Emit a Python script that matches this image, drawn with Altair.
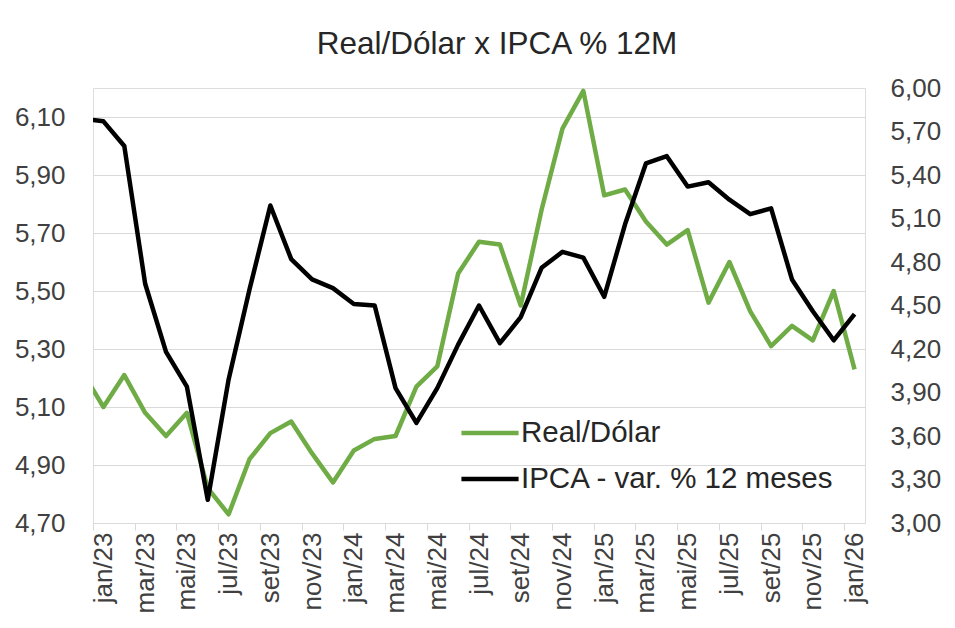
import altair as alt
import pandas as pd

FONT = "Liberation Sans"

meses = ["dez/22", "jan/23", "fev/23", "mar/23", "abr/23", "mai/23", "jun/23", "jul/23",
         "ago/23", "set/23", "out/23", "nov/23", "dez/23", "jan/24", "fev/24", "mar/24",
         "abr/24", "mai/24", "jun/24", "jul/24", "ago/24", "set/24", "out/24", "nov/24",
         "dez/24", "jan/25", "fev/25", "mar/25", "abr/25", "mai/25", "jun/25", "jul/25",
         "ago/25", "set/25", "out/25", "nov/25", "dez/25", "jan/26"]

real_dolar = [5.22, 5.10, 5.21, 5.08, 5.00, 5.08, 4.82, 4.73, 4.92, 5.01, 5.05, 4.94,
              4.84, 4.95, 4.99, 5.00, 5.17, 5.24, 5.56, 5.67, 5.66, 5.45, 5.78, 6.06,
              6.19, 5.83, 5.85, 5.74, 5.66, 5.71, 5.46, 5.60, 5.43, 5.31, 5.38, 5.33,
              5.50, 5.23]

ipca_12m = [5.79, 5.77, 5.60, 4.65, 4.18, 3.94, 3.16, 3.99, 4.61, 5.19, 4.82, 4.68,
            4.62, 4.51, 4.50, 3.93, 3.69, 3.93, 4.23, 4.50, 4.24, 4.42, 4.76, 4.87,
            4.83, 4.56, 5.06, 5.48, 5.53, 5.32, 5.35, 5.23, 5.13, 5.17, 4.68, 4.46,
            4.26, 4.44]

series = ["Real/Dólar", "IPCA - var. % 12 meses"]
cores = ["#6fac46", "#000000"]

ticks_esq = [4.70, 4.90, 5.10, 5.30, 5.50, 5.70, 5.90, 6.10]
ticks_dir = [3.00, 3.30, 3.60, 3.90, 4.20, 4.50, 4.80, 5.10, 5.40, 5.70, 6.00]
dominio_esq = [4.70, 6.20]
dominio_dir = [3.00, 6.00]

idx = list(range(-1, len(meses) - 1))
df_real = pd.DataFrame({"i": idx, "mes": meses, "valor": real_dolar, "serie": series[0]})
df_ipca = pd.DataFrame({"i": idx, "mes": meses, "valor": ipca_12m, "serie": series[1]})

W, H = 772, 435
n_cat = len(meses) - 1
step = W / n_cat

rotulos_x = meses[1:]
label_expr = "[" + ",".join("'" + m + "'" for m in rotulos_x) + "][datum.value]"
num_expr = "replace(format(datum.value, '.2f'), '.', ',')"

x_enc = alt.X(
    "i:Q",
    scale=alt.Scale(domain=[-0.5, n_cat - 0.5], nice=False, zero=False),
    axis=alt.Axis(
        values=list(range(0, n_cat, 2)),
        labelExpr=label_expr,
        labelAngle=-90,
        tickOffset=-step / 2,
        labelOffset=step / 2,
        title=None,
        grid=False,
        domainColor="#d9d9d9",
        tickColor="#d9d9d9",
        tickSize=7,
        labelPadding=2,
        labelFontSize=26,
        labelFont=FONT,
        labelColor="#404040",
        labelOverlap=False,
        labelFlush=False,
    ),
)

color_enc = alt.Color(
    "serie:N",
    scale=alt.Scale(domain=series, range=cores),
    legend=alt.Legend(
        orient="none",
        legendX=372,
        legendY=320,
        title=None,
        symbolType="M-1.27,0H1.27",
        symbolSize=2025,
        symbolStrokeWidth=4.5,
        labelFontSize=29.5,
        labelFont=FONT,
        labelColor="#262626",
        labelOffset=6,
        labelLimit=500,
        rowPadding=6,
        padding=0,
    ),
)

verde = alt.Chart(df_real).mark_line(strokeWidth=4.5, clip=True, strokeJoin="round").encode(
    x=x_enc,
    y=alt.Y(
        "valor:Q",
        scale=alt.Scale(domain=dominio_esq, nice=False, zero=False),
        axis=alt.Axis(
            orient="left",
            values=ticks_esq,
            labelExpr=num_expr,
            grid=True,
            gridColor="#d9d9d9",
            domain=False,
            ticks=False,
            labelPadding=28,
            title=None,
            labelFontSize=26,
            labelFont=FONT,
            labelColor="#404040",
        ),
    ),
    color=color_enc,
)

preta = alt.Chart(df_ipca).mark_line(strokeWidth=4.5, clip=True, strokeJoin="round").encode(
    x=x_enc,
    y=alt.Y(
        "valor:Q",
        scale=alt.Scale(domain=dominio_dir, nice=False, zero=False),
        axis=alt.Axis(
            orient="right",
            values=ticks_dir,
            labelExpr=num_expr,
            grid=False,
            domain=False,
            ticks=False,
            labelPadding=25,
            title=None,
            labelFontSize=26,
            labelFont=FONT,
            labelColor="#404040",
        ),
    ),
    color=color_enc,
)

chart = (
    alt.layer(verde, preta)
    .resolve_scale(y="independent")
    .properties(
        width=W,
        height=H,
        autosize=alt.AutoSizeParams(type="none"),
        padding={"left": 85, "top": 80, "right": 82, "bottom": 97},
        title=alt.TitleParams(
            text="Real/Dólar x IPCA % 12M",
            fontSize=31.5,
            font=FONT,
            fontWeight="normal",
            color="#262626",
            anchor="middle",
            dx=18,
            dy=42,
            baseline="alphabetic",
            offset=32,
        ),
    )
    .configure_view(stroke=None)
    .configure(background="white")
)

chart.save("out.html", embed_options={"renderer": "svg", "actions": False})
